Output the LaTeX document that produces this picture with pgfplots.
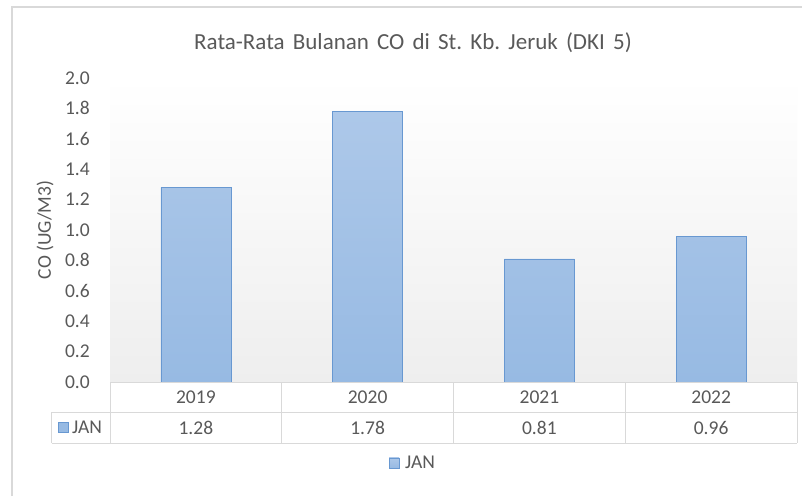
\documentclass[border=0pt]{standalone}
\usepackage{fontspec}
\setmainfont{Carlito}
\usepackage{pgfplots}
\pgfplotsset{compat=1.18}
\definecolor{txt}{RGB}{89,89,89}
\definecolor{gridc}{RGB}{217,217,217}
\definecolor{barTop}{RGB}{173,200,233}
\definecolor{barBot}{RGB}{151,186,227}
\definecolor{barEdge}{RGB}{104,152,209}
\definecolor{bgBot}{RGB}{238,238,238}
\newcommand{\tfont}{\fontsize{19.5}{23}\selectfont}
\newcommand{\wsp}{\hspace{8.2pt}}

\begin{document}
\begin{tikzpicture}[x=1pt,y=1pt]
  \useasboundingbox (0,0) rectangle (802,496);
  \fill[white] (0,0) rectangle (802,496);
  % chart frame (only top and left edges are inside the picture)
  \draw[gridc, line width=1.5pt] (12,0) -- (12,489) -- (802,489);

  \node[txt, font=\fontsize{23}{27}\selectfont] at (413,453)
    {Rata-Rata\wsp Bulanan\wsp CO\wsp di\wsp St.\wsp Kb.\wsp Jeruk\wsp (DKI\wsp 5)};
  \node[txt, rotate=90, font=\tfont] at (45,266) {CO (UG/M3)};

  \begin{axis}[
      at={(110pt,114pt)}, anchor=south west,
      scale only axis, width=687pt, height=304pt,
      xmin=-0.5, xmax=3.5, ymin=0, ymax=2,
      ybar, bar width=70pt,
      xtick=\empty,
      ytick={0,0.2,0.4,0.6,0.8,1.0,1.2,1.4,1.6,1.8,2.0},
      yticklabel style={txt, font=\tfont, inner sep=0pt, xshift=-20pt,
        /pgf/number format/.cd, fixed, fixed zerofill, precision=1,
        assume math mode=true},
      axis line style={draw=none},
      tick style={draw=none},
      axis background/.style={top color=white, bottom color=bgBot},
      clip=false,
      legend style={at={(0.441,-0.266)}, anchor=center, draw=none,
        fill=none, font=\tfont, text=txt},
      legend image code/.code={
        \path[draw=none, fill=none, shade=false] (0pt,0pt) -- (14pt,0pt);
        \draw[barEdge, fill=barBot] (0pt,-5pt) rectangle (10pt,5pt);},
    ]

    \addplot[draw=barEdge, top color=barTop, bottom color=barBot]
      coordinates {(0,1.28) (1,1.78) (2,0.81) (3,0.96)};
    \addlegendentry{JAN}

    % data table grid
    \draw[gridc, line width=1pt] (rel axis cs:0,0) -- (rel axis cs:1,0);
    \draw[gridc, line width=1pt] ([xshift=-58pt,yshift=-30pt]rel axis cs:0,0)
      -- ([yshift=-30pt]rel axis cs:1,0);
    \draw[gridc, line width=1pt] ([xshift=-58pt,yshift=-61pt]rel axis cs:0,0)
      -- ([yshift=-61pt]rel axis cs:1,0);
    \draw[gridc, line width=1pt] ([xshift=-58pt,yshift=-30pt]rel axis cs:0,0)
      -- ([xshift=-58pt,yshift=-61pt]rel axis cs:0,0);
    \draw[gridc, line width=1pt] (rel axis cs:0,0) -- ([yshift=-61pt]rel axis cs:0,0);
    \draw[gridc, line width=1pt] (rel axis cs:0.25,0) -- ([yshift=-61pt]rel axis cs:0.25,0);
    \draw[gridc, line width=1pt] (rel axis cs:0.5,0) -- ([yshift=-61pt]rel axis cs:0.5,0);
    \draw[gridc, line width=1pt] (rel axis cs:0.75,0) -- ([yshift=-61pt]rel axis cs:0.75,0);
    \draw[gridc, line width=1pt] (rel axis cs:1,0) -- ([yshift=-61pt]rel axis cs:1,0);

    % table contents
    \node[txt, font=\tfont] at ([yshift=-15pt]axis cs:0,0) {2019};
    \node[txt, font=\tfont] at ([yshift=-15pt]axis cs:1,0) {2020};
    \node[txt, font=\tfont] at ([yshift=-15pt]axis cs:2,0) {2021};
    \node[txt, font=\tfont] at ([yshift=-15pt]axis cs:3,0) {2022};
    \node[txt, font=\tfont] at ([yshift=-45.5pt]axis cs:0,0) {1.28};
    \node[txt, font=\tfont] at ([yshift=-45.5pt]axis cs:1,0) {1.78};
    \node[txt, font=\tfont] at ([yshift=-45.5pt]axis cs:2,0) {0.81};
    \node[txt, font=\tfont] at ([yshift=-45.5pt]axis cs:3,0) {0.96};
    \draw[barEdge, fill=barBot] ([xshift=-52pt,yshift=-50.5pt]rel axis cs:0,0)
      rectangle ([xshift=-42pt,yshift=-40.5pt]rel axis cs:0,0);
    \node[txt, font=\tfont, anchor=west, inner sep=0pt]
      at ([xshift=-38pt,yshift=-45.5pt]rel axis cs:0,0) {JAN};
  \end{axis}
\end{tikzpicture}
\end{document}
